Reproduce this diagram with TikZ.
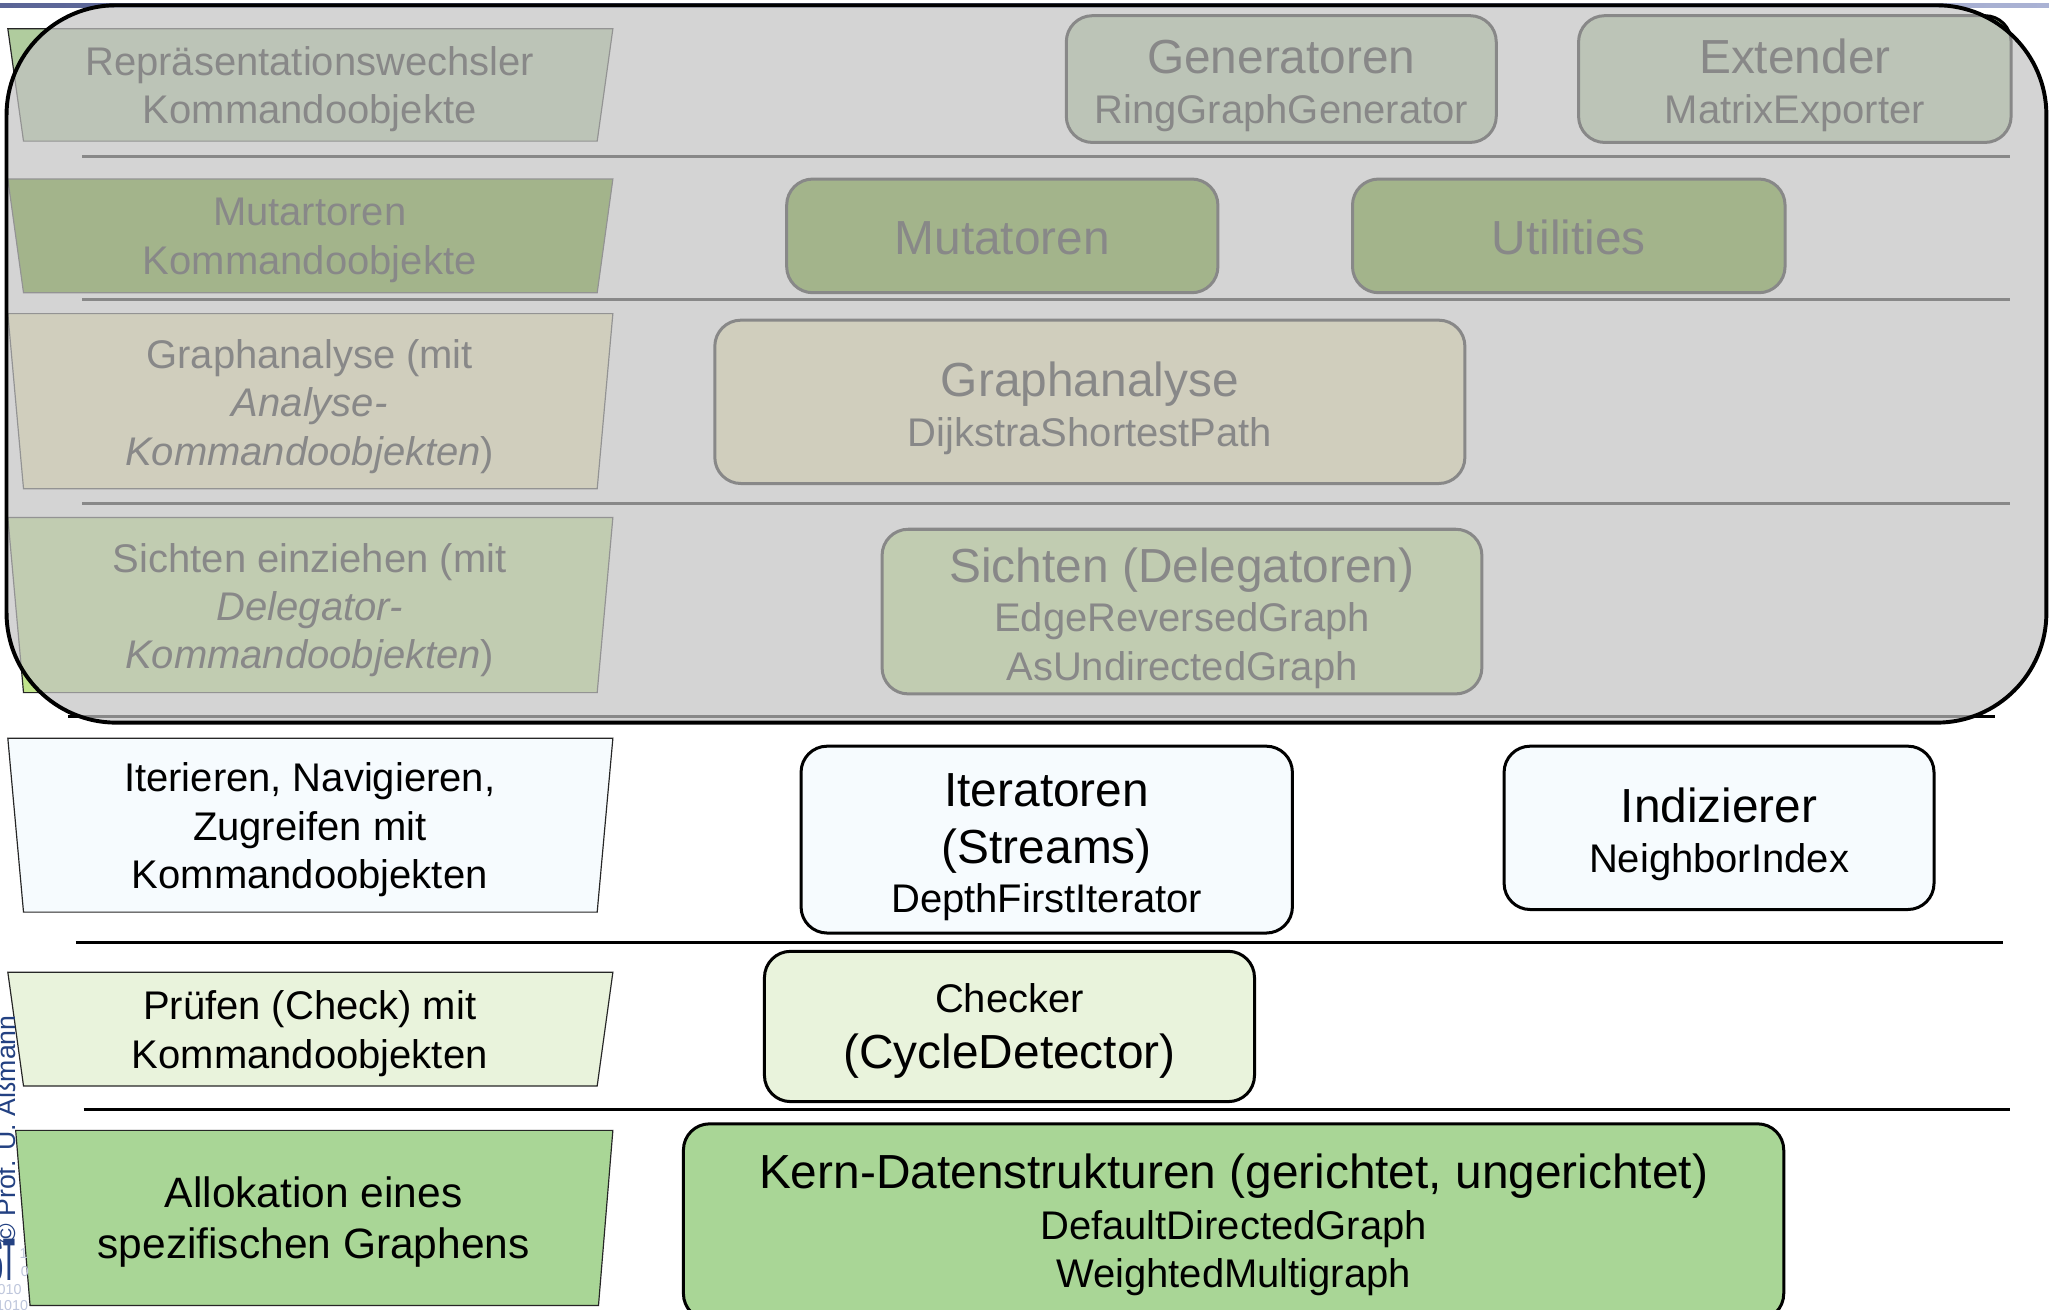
\documentclass[tikz,border=0pt]{standalone}
\usepackage{fontspec}
\setmainfont{Liberation Sans}
\usetikzlibrary{fit}
\definecolor{ovl}{RGB}{194,194,194}
\definecolor{gA}{RGB}{176,204,158}
\definecolor{gB}{RGB}{90,150,12}
\definecolor{yC}{RGB}{242,236,180}
\definecolor{gD}{RGB}{192,228,140}
\definecolor{wE}{RGB}{246,251,254}
\definecolor{gF}{RGB}{233,243,220}
\definecolor{gG}{RGB}{169,214,150}
\definecolor{stblue}{RGB}{35,65,130}
\definecolor{digit}{RGB}{190,198,220}
\definecolor{barL}{RGB}{90,100,150}
\definecolor{barR}{RGB}{170,178,212}
\tikzset{
  trap/.style={draw=black!85, line width=0.45pt},
  box/.style={draw=black, line width=1.15pt, rounded corners=10pt, inner sep=0pt},
  sepline/.style={draw=black, line width=1.2pt},
  sm/.style={inner sep=0pt, font=\fontsize{15.3}{18.5}\selectfont, text height=11pt, text depth=1.5pt},
  lg/.style={inner sep=0pt, font=\fontsize{18.3}{21.5}\selectfont, text height=13.2pt, text depth=1.8pt},
  lefttxt/.style={inner sep=0pt, align=center, font=\fontsize{15.3}{18.5}\selectfont},
  overlaybox/.style={draw=black, line width=1.5pt, fill=ovl, fill opacity=0.702, rounded corners=42pt},
  digitxt/.style={text=digit, inner sep=0pt, font=\fontsize{5.5}{6}\selectfont},
}
\begin{document}
\begin{tikzpicture}[x=0.5pt, y=-0.5pt]
\useasboundingbox (0,0) rectangle (1568,1002);
\clip (0,0) rectangle (1568,1002);
\fill[white] (0,0) rectangle (1568,1002);

% top bar of the slide
\shade[left color=barL, right color=barR] (0,2.5) rectangle (1568,5.5);

% ---------- row 1 ----------
\filldraw[trap, fill=gA] (6,22) -- (469,22) -- (457,108) -- (18,108) -- cycle;
\node[lefttxt] (t1) at (237,68) {Repräsentationswechsler\\Kommandoobjekte};
\node[box, fill=gA, fit={(816,12) (1145,109)}] (gen) {};
\node[lg] (genA) at (980.5,45) {Generatoren};
\node[sm] (genB) at (980.5,85) {RingGraphGenerator};
\node[box, fill=gA, fit={(1208,12) (1539,109)}] (ext) {};
\node[lg] (extA) at (1373.5,45) {Extender};
\node[sm] (extB) at (1373.5,85) {MatrixExporter};
\coordinate (l1a) at (63,120); \coordinate (l1b) at (1538,120);
\draw[sepline] (l1a) -- (l1b);

% ---------- row 2 ----------
\filldraw[trap, fill=gB] (6,137) -- (469,137) -- (457,224) -- (18,224) -- cycle;
\node[lefttxt] (t2) at (237,184) {Mutartoren\\Kommandoobjekte};
\node[box, fill=gB, fit={(602,137) (932,224)}] (mut) {};
\node[lg] (mutA) at (767,183) {Mutatoren};
\node[box, fill=gB, fit={(1035,137) (1366,224)}] (util) {};
\node[lg] (utilA) at (1200.5,183) {Utilities};
\coordinate (l2a) at (63,229); \coordinate (l2b) at (1538,229);
\draw[sepline] (l2a) -- (l2b);

% ---------- row 3 ----------
\filldraw[trap, fill=yC] (6,240) -- (469,240) -- (457,374) -- (18,374) -- cycle;
\node[lefttxt] (t3) at (237,311) {Graphanalyse (mit\\\textit{Analyse-}\\\textit{Kommandoobjekten})};
\node[box, fill=yC, fit={(547,245) (1121,370)}] (ana) {};
\node[lg] (anaA) at (834,292) {Graphanalyse};
\node[sm] (anaB) at (834,332) {DijkstraShortestPath};
\coordinate (l3a) at (63,385); \coordinate (l3b) at (1538,385);
\draw[sepline] (l3a) -- (l3b);

% ---------- row 4 ----------
\filldraw[trap, fill=gD] (6,396) -- (469,396) -- (457,530) -- (18,530) -- cycle;
\node[lefttxt] (t4) at (237,467) {Sichten einziehen (mit\\\textit{Delegator-}\\\textit{Kommandoobjekten})};
\node[box, fill=gD, fit={(675,405) (1134,531)}] (sich) {};
\node[lg] (sichA) at (904.5,434) {Sichten (Delegatoren)};
\node[sm] (sichB) at (904.5,474) {EdgeReversedGraph};
\node[sm] (sichC) at (904.5,511) {AsUndirectedGraph};
\coordinate (l4a) at (52,548); \coordinate (l4b) at (1527,548);
\draw[sepline] (l4a) -- (l4b);

% ---------- translucent overlay over the upper layers ----------
\draw[overlaybox] (5,4) rectangle (1566,553);

% ---------- row 5 ----------
\filldraw[trap, fill=wE] (6,565) -- (469,565) -- (457,698) -- (18,698) -- cycle;
\node[lefttxt] (t5) at (237,635) {Iterieren, Navigieren,\\Zugreifen mit\\Kommandoobjekten};
\node[box, fill=wE, fit={(613,571) (989,714)}] (iter) {};
\node[lg] (iterA) at (801,606) {Iteratoren};
\node[lg] (iterB) at (801,649) {(Streams)};
\node[sm] (iterC) at (801,689) {DepthFirstIterator};
\node[box, fill=wE, fit={(1151,571) (1480,696)}] (ind) {};
\node[lg] (indA) at (1315.5,618) {Indizierer};
\node[sm] (indB) at (1315.5,658) {NeighborIndex};
\coordinate (l5a) at (58,721); \coordinate (l5b) at (1533,721);
\draw[sepline] (l5a) -- (l5b);

% ---------- row 6 ----------
\filldraw[trap, fill=gF] (6,744) -- (469,744) -- (457,831) -- (18,831) -- cycle;
\node[lefttxt] (t6) at (237,791) {Prüfen (Check) mit\\Kommandoobjekten};
\node[box, fill=gF, fit={(585,728) (960,843)}] (chk) {};
\node[sm] (chkA) at (772.5,765) {Checker};
\node[lg] (chkB) at (772.5,806) {(CycleDetector)};
\coordinate (l6a) at (64,849); \coordinate (l6b) at (1538,849);
\draw[sepline] (l6a) -- (l6b);

% ---------- row 7 ----------
\filldraw[trap, fill=gG] (12,865) -- (469,865) -- (458,999) -- (23,999) -- cycle;
\node[lefttxt, font=\fontsize{16.25}{19.5}\selectfont] (t7) at (240,935) {Allokation eines\\spezifischen Graphens};
\node[box, fill=gG, fit={(523,860) (1365,1010)}] (kern) {};
\node[lg] (kernA) at (944,898) {Kern-Datenstrukturen (gerichtet, ungerichtet)};
\node[sm] (kernB) at (944,939) {DefaultDirectedGraph};
\node[sm] (kernC) at (944,976) {WeightedMultigraph};

% ---------- slide decoration at the left edge ----------
\node[anchor=base west, rotate=90, text=stblue, inner sep=0pt, font=\fontsize{10.2}{12}\selectfont] (copy) at (12,952) {© Prof. U. Aßmann};
\node[anchor=base east, xscale=0.32, text=stblue, inner sep=0pt, font=\bfseries\fontsize{23}{25}\selectfont] (stlogo) at (12,980) {ST};
\node[digitxt] (dg1) at (18,959) {1};
\node[digitxt] (dg2) at (19,973) {0};
\node[digitxt, anchor=east] (dg3) at (17,987) {010};
\node[digitxt, anchor=east] (dg4) at (22,999) {1010};
\end{tikzpicture}
\end{document}
